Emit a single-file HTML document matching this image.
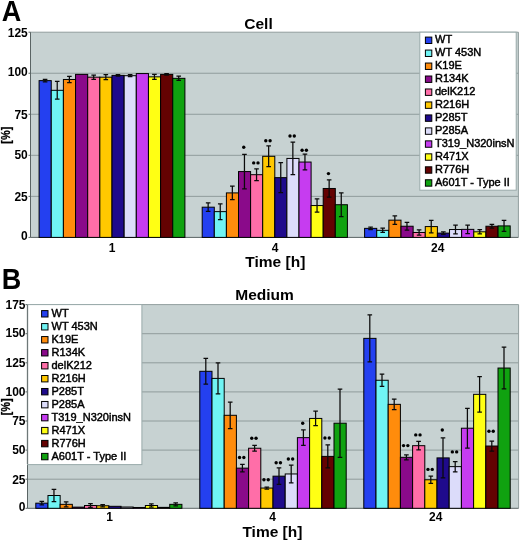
<!DOCTYPE html>
<html><head><meta charset="utf-8"><style>
html,body{margin:0;padding:0;background:#fff;width:520px;height:542px;overflow:hidden}
svg{display:block;filter:blur(0.35px)}
text{font-family:"Liberation Sans", sans-serif;fill:#000}
.ax{font-size:12px;font-weight:bold}
.st{font-size:11px;font-weight:bold}
.lg{font-size:11px;stroke:#000;stroke-width:0.45px}
.big{font-size:29.5px;font-weight:bold}
.ttl{font-size:15.5px;font-weight:bold}
.pc{font-size:12px;font-weight:bold;stroke:#000;stroke-width:0.25px}
</style></head><body>
<svg width="520" height="542" viewBox="0 0 520 542">
<rect x="30.5" y="32.2" width="487.9" height="205.2" fill="#C7D2D2"/>
<line x1="30.5" y1="196.36" x2="518.4" y2="196.36" stroke="#909C9C" stroke-width="1"/>
<line x1="30.5" y1="155.32" x2="518.4" y2="155.32" stroke="#909C9C" stroke-width="1"/>
<line x1="30.5" y1="114.28" x2="518.4" y2="114.28" stroke="#909C9C" stroke-width="1"/>
<line x1="30.5" y1="73.24" x2="518.4" y2="73.24" stroke="#909C9C" stroke-width="1"/>
<path d="M30.5 32.2H518.4V237.4" fill="none" stroke="#929E9E" stroke-width="1"/>
<path d="M30.5 32.2V237.4H518.4" fill="none" stroke="#5A6464" stroke-width="1"/>
<line x1="28.5" y1="237.4" x2="30.5" y2="237.4" stroke="#5A6464" stroke-width="1"/>
<text x="27.8" y="239.5" text-anchor="end" class="ax">0</text>
<line x1="28.5" y1="196.36" x2="30.5" y2="196.36" stroke="#5A6464" stroke-width="1"/>
<text x="27.8" y="201.3" text-anchor="end" class="ax">25</text>
<line x1="28.5" y1="155.32" x2="30.5" y2="155.32" stroke="#5A6464" stroke-width="1"/>
<text x="27.8" y="159.05" text-anchor="end" class="ax">50</text>
<line x1="28.5" y1="114.28" x2="30.5" y2="114.28" stroke="#5A6464" stroke-width="1"/>
<text x="27.8" y="118.95" text-anchor="end" class="ax">75</text>
<line x1="28.5" y1="73.24" x2="30.5" y2="73.24" stroke="#5A6464" stroke-width="1"/>
<text x="27.8" y="76.4" text-anchor="end" class="ax">100</text>
<line x1="28.5" y1="32.2" x2="30.5" y2="32.2" stroke="#5A6464" stroke-width="1"/>
<text x="27.8" y="36.55" text-anchor="end" class="ax">125</text>
<rect x="39.1" y="80.63" width="12.15" height="156.77" fill="#2440F0" stroke="#000" stroke-width="1"/>
<rect x="51.25" y="90.31" width="12.15" height="147.09" fill="#70F4F4" stroke="#000" stroke-width="1"/>
<rect x="63.4" y="79.48" width="12.15" height="157.92" fill="#FF8C0C" stroke="#000" stroke-width="1"/>
<rect x="75.55" y="74.39" width="12.15" height="163.01" fill="#8A0A8A" stroke="#000" stroke-width="1"/>
<rect x="87.7" y="77.18" width="12.15" height="160.22" fill="#FF6EA8" stroke="#000" stroke-width="1"/>
<rect x="99.85" y="77.18" width="12.15" height="160.22" fill="#FFC800" stroke="#000" stroke-width="1"/>
<rect x="112" y="75.37" width="12.15" height="162.03" fill="#1F0A8C" stroke="#000" stroke-width="1"/>
<rect x="124.15" y="75.7" width="12.15" height="161.7" fill="#DCDCFA" stroke="#000" stroke-width="1"/>
<rect x="136.3" y="73.57" width="12.15" height="163.83" fill="#C63CF0" stroke="#000" stroke-width="1"/>
<rect x="148.45" y="76.85" width="12.15" height="160.55" fill="#FFFF14" stroke="#000" stroke-width="1"/>
<rect x="160.6" y="74.39" width="12.15" height="163.01" fill="#640202" stroke="#000" stroke-width="1"/>
<rect x="172.75" y="78.33" width="12.15" height="159.07" fill="#10A210" stroke="#000" stroke-width="1"/>
<path d="M45.08 79.31V81.94M42.78 79.31H47.38M42.78 81.94H47.38" stroke="#0a0a0a" stroke-width="1.25" fill="none"/>
<path d="M57.23 81.45V99.18M54.93 81.45H59.52M54.93 99.18H59.52" stroke="#0a0a0a" stroke-width="1.25" fill="none"/>
<path d="M69.38 76.36V82.6M67.08 76.36H71.68M67.08 82.6H71.68" stroke="#0a0a0a" stroke-width="1.25" fill="none"/>
<path d="M93.68 75.05V79.31M91.38 75.05H95.98M91.38 79.31H95.98" stroke="#0a0a0a" stroke-width="1.25" fill="none"/>
<path d="M105.83 74.72V79.64M103.53 74.72H108.12M103.53 79.64H108.12" stroke="#0a0a0a" stroke-width="1.25" fill="none"/>
<path d="M117.98 74.72V76.03M115.68 74.72H120.28M115.68 76.03H120.28" stroke="#0a0a0a" stroke-width="1.25" fill="none"/>
<path d="M130.12 74.72V76.69M127.83 74.72H132.43M127.83 76.69H132.43" stroke="#0a0a0a" stroke-width="1.25" fill="none"/>
<path d="M154.43 74.39V79.31M152.12 74.39H156.73M152.12 79.31H156.73" stroke="#0a0a0a" stroke-width="1.25" fill="none"/>
<path d="M166.57 73.73V75.05M164.27 73.73H168.88M164.27 75.05H168.88" stroke="#0a0a0a" stroke-width="1.25" fill="none"/>
<path d="M178.72 76.19V80.46M176.42 76.19H181.03M176.42 80.46H181.03" stroke="#0a0a0a" stroke-width="1.25" fill="none"/>
<text x="112" y="251.5" text-anchor="middle" class="ax">1</text>
<rect x="202.2" y="207.19" width="12.1" height="30.21" fill="#2440F0" stroke="#000" stroke-width="1"/>
<rect x="214.3" y="211.63" width="12.1" height="25.77" fill="#70F4F4" stroke="#000" stroke-width="1"/>
<rect x="226.4" y="192.91" width="12.1" height="44.49" fill="#FF8C0C" stroke="#000" stroke-width="1"/>
<rect x="238.5" y="171.57" width="12.1" height="65.83" fill="#8A0A8A" stroke="#000" stroke-width="1"/>
<rect x="250.6" y="174.69" width="12.1" height="62.71" fill="#FF6EA8" stroke="#000" stroke-width="1"/>
<rect x="262.7" y="156.3" width="12.1" height="81.1" fill="#FFC800" stroke="#000" stroke-width="1"/>
<rect x="274.8" y="177.65" width="12.1" height="59.75" fill="#1F0A8C" stroke="#000" stroke-width="1"/>
<rect x="286.9" y="158.44" width="12.1" height="78.96" fill="#DCDCFA" stroke="#000" stroke-width="1"/>
<rect x="299" y="162.05" width="12.1" height="75.35" fill="#C63CF0" stroke="#000" stroke-width="1"/>
<rect x="311.1" y="205.55" width="12.1" height="31.85" fill="#FFFF14" stroke="#000" stroke-width="1"/>
<rect x="323.2" y="188.48" width="12.1" height="48.92" fill="#640202" stroke="#000" stroke-width="1"/>
<rect x="335.3" y="204.73" width="12.1" height="32.67" fill="#10A210" stroke="#000" stroke-width="1"/>
<path d="M208.15 202.93V211.46M205.85 202.93H210.45M205.85 211.46H210.45" stroke="#0a0a0a" stroke-width="1.25" fill="none"/>
<path d="M220.25 203.75V219.51M217.95 203.75H222.55M217.95 219.51H222.55" stroke="#0a0a0a" stroke-width="1.25" fill="none"/>
<path d="M232.35 186.18V199.64M230.05 186.18H234.65M230.05 199.64H234.65" stroke="#0a0a0a" stroke-width="1.25" fill="none"/>
<path d="M244.45 154.34V188.81M242.15 154.34H246.75M242.15 188.81H246.75" stroke="#0a0a0a" stroke-width="1.25" fill="none"/>
<circle cx="243.75" cy="147.3" r="1.7" fill="#000"/>
<path d="M256.55 168.78V180.6M254.25 168.78H258.85M254.25 180.6H258.85" stroke="#0a0a0a" stroke-width="1.25" fill="none"/>
<circle cx="253.7" cy="162.9" r="1.7" fill="#000"/>
<circle cx="258" cy="162.9" r="1.7" fill="#000"/>
<path d="M268.65 145.96V166.65M266.35 145.96H270.95M266.35 166.65H270.95" stroke="#0a0a0a" stroke-width="1.25" fill="none"/>
<circle cx="265.8" cy="140.7" r="1.7" fill="#000"/>
<circle cx="270.1" cy="140.7" r="1.7" fill="#000"/>
<path d="M280.75 162.71V192.58M278.45 162.71H283.05M278.45 192.58H283.05" stroke="#0a0a0a" stroke-width="1.25" fill="none"/>
<path d="M292.85 142.19V174.69M290.55 142.19H295.15M290.55 174.69H295.15" stroke="#0a0a0a" stroke-width="1.25" fill="none"/>
<circle cx="290" cy="136" r="1.7" fill="#000"/>
<circle cx="294.3" cy="136" r="1.7" fill="#000"/>
<path d="M304.95 154.17V169.93M302.65 154.17H307.25M302.65 169.93H307.25" stroke="#0a0a0a" stroke-width="1.25" fill="none"/>
<circle cx="302.1" cy="150.3" r="1.7" fill="#000"/>
<circle cx="306.4" cy="150.3" r="1.7" fill="#000"/>
<path d="M317.05 198.99V212.12M314.75 198.99H319.35M314.75 212.12H319.35" stroke="#0a0a0a" stroke-width="1.25" fill="none"/>
<path d="M329.15 179.78V197.18M326.85 179.78H331.45M326.85 197.18H331.45" stroke="#0a0a0a" stroke-width="1.25" fill="none"/>
<circle cx="328.45" cy="173.6" r="1.7" fill="#000"/>
<path d="M341.25 192.75V216.72M338.95 192.75H343.55M338.95 216.72H343.55" stroke="#0a0a0a" stroke-width="1.25" fill="none"/>
<text x="275" y="251.5" text-anchor="middle" class="ax">4</text>
<rect x="364.6" y="228.37" width="12.13" height="9.03" fill="#2440F0" stroke="#000" stroke-width="1"/>
<rect x="376.73" y="230.34" width="12.13" height="7.06" fill="#70F4F4" stroke="#000" stroke-width="1"/>
<rect x="388.87" y="220.16" width="12.13" height="17.24" fill="#FF8C0C" stroke="#000" stroke-width="1"/>
<rect x="401" y="226.24" width="12.13" height="11.16" fill="#8A0A8A" stroke="#000" stroke-width="1"/>
<rect x="413.13" y="232.48" width="12.13" height="4.92" fill="#FF6EA8" stroke="#000" stroke-width="1"/>
<rect x="425.27" y="226.57" width="12.13" height="10.83" fill="#FFC800" stroke="#000" stroke-width="1"/>
<rect x="437.4" y="233.13" width="12.13" height="4.27" fill="#1F0A8C" stroke="#000" stroke-width="1"/>
<rect x="449.53" y="229.52" width="12.13" height="7.88" fill="#DCDCFA" stroke="#000" stroke-width="1"/>
<rect x="461.67" y="229.36" width="12.13" height="8.04" fill="#C63CF0" stroke="#000" stroke-width="1"/>
<rect x="473.8" y="231.82" width="12.13" height="5.58" fill="#FFFF14" stroke="#000" stroke-width="1"/>
<rect x="485.93" y="226.24" width="12.13" height="11.16" fill="#640202" stroke="#000" stroke-width="1"/>
<rect x="498.07" y="225.91" width="12.13" height="11.49" fill="#10A210" stroke="#000" stroke-width="1"/>
<path d="M370.57 227.06V229.68M368.27 227.06H372.87M368.27 229.68H372.87" stroke="#0a0a0a" stroke-width="1.25" fill="none"/>
<path d="M382.7 228.21V232.48M380.4 228.21H385M380.4 232.48H385" stroke="#0a0a0a" stroke-width="1.25" fill="none"/>
<path d="M394.83 215.9V224.43M392.53 215.9H397.13M392.53 224.43H397.13" stroke="#0a0a0a" stroke-width="1.25" fill="none"/>
<path d="M406.97 222.46V230.01M404.67 222.46H409.27M404.67 230.01H409.27" stroke="#0a0a0a" stroke-width="1.25" fill="none"/>
<path d="M419.1 229.85V235.1M416.8 229.85H421.4M416.8 235.1H421.4" stroke="#0a0a0a" stroke-width="1.25" fill="none"/>
<path d="M431.23 220.33V232.8M428.93 220.33H433.53M428.93 232.8H433.53" stroke="#0a0a0a" stroke-width="1.25" fill="none"/>
<path d="M443.37 231.82V234.45M441.07 231.82H445.67M441.07 234.45H445.67" stroke="#0a0a0a" stroke-width="1.25" fill="none"/>
<path d="M455.5 225.09V233.95M453.2 225.09H457.8M453.2 233.95H457.8" stroke="#0a0a0a" stroke-width="1.25" fill="none"/>
<path d="M467.63 225.09V233.62M465.33 225.09H469.93M465.33 233.62H469.93" stroke="#0a0a0a" stroke-width="1.25" fill="none"/>
<path d="M479.77 229.68V233.95M477.47 229.68H482.07M477.47 233.95H482.07" stroke="#0a0a0a" stroke-width="1.25" fill="none"/>
<path d="M491.9 224.27V228.21M489.6 224.27H494.2M489.6 228.21H494.2" stroke="#0a0a0a" stroke-width="1.25" fill="none"/>
<path d="M504.03 220.33V231.49M501.73 220.33H506.33M501.73 231.49H506.33" stroke="#0a0a0a" stroke-width="1.25" fill="none"/>
<text x="437.8" y="251.5" text-anchor="middle" class="ax">24</text>
<rect x="419.8" y="32.2" width="96.4" height="158" fill="#fff" stroke="#9aa" stroke-width="1"/>
<rect x="425.4" y="37.1" width="6.4" height="6.4" fill="#2440F0" stroke="#000" stroke-width="1"/>
<text x="435" y="43.4" class="lg">WT</text>
<rect x="425.4" y="50.07" width="6.4" height="6.4" fill="#70F4F4" stroke="#000" stroke-width="1"/>
<text x="435" y="56.37" class="lg">WT 453N</text>
<rect x="425.4" y="63.04" width="6.4" height="6.4" fill="#FF8C0C" stroke="#000" stroke-width="1"/>
<text x="435" y="69.34" class="lg">K19E</text>
<rect x="425.4" y="76.01" width="6.4" height="6.4" fill="#8A0A8A" stroke="#000" stroke-width="1"/>
<text x="435" y="82.31" class="lg">R134K</text>
<rect x="425.4" y="88.98" width="6.4" height="6.4" fill="#FF6EA8" stroke="#000" stroke-width="1"/>
<text x="435" y="95.28" class="lg">delK212</text>
<rect x="425.4" y="101.95" width="6.4" height="6.4" fill="#FFC800" stroke="#000" stroke-width="1"/>
<text x="435" y="108.25" class="lg">R216H</text>
<rect x="425.4" y="114.92" width="6.4" height="6.4" fill="#1F0A8C" stroke="#000" stroke-width="1"/>
<text x="435" y="121.22" class="lg">P285T</text>
<rect x="425.4" y="127.89" width="6.4" height="6.4" fill="#DCDCFA" stroke="#000" stroke-width="1"/>
<text x="435" y="134.19" class="lg">P285A</text>
<rect x="425.4" y="140.86" width="6.4" height="6.4" fill="#C63CF0" stroke="#000" stroke-width="1"/>
<text x="435" y="147.16" class="lg">T319_N320insN</text>
<rect x="425.4" y="153.83" width="6.4" height="6.4" fill="#FFFF14" stroke="#000" stroke-width="1"/>
<text x="435" y="160.13" class="lg">R471X</text>
<rect x="425.4" y="166.8" width="6.4" height="6.4" fill="#640202" stroke="#000" stroke-width="1"/>
<text x="435" y="173.1" class="lg">R776H</text>
<rect x="425.4" y="179.77" width="6.4" height="6.4" fill="#10A210" stroke="#000" stroke-width="1"/>
<text x="435" y="186.07" class="lg">A601T - Type II</text>
<rect x="27.5" y="304.6" width="491.1" height="203.7" fill="#C7D2D2"/>
<line x1="27.5" y1="479.2" x2="518.6" y2="479.2" stroke="#909C9C" stroke-width="1"/>
<line x1="27.5" y1="450.1" x2="518.6" y2="450.1" stroke="#909C9C" stroke-width="1"/>
<line x1="27.5" y1="421" x2="518.6" y2="421" stroke="#909C9C" stroke-width="1"/>
<line x1="27.5" y1="391.9" x2="518.6" y2="391.9" stroke="#909C9C" stroke-width="1"/>
<line x1="27.5" y1="362.8" x2="518.6" y2="362.8" stroke="#909C9C" stroke-width="1"/>
<line x1="27.5" y1="333.7" x2="518.6" y2="333.7" stroke="#909C9C" stroke-width="1"/>
<path d="M27.5 304.6H518.6V508.3" fill="none" stroke="#929E9E" stroke-width="1"/>
<path d="M27.5 304.6V508.3H518.6" fill="none" stroke="#5A6464" stroke-width="1"/>
<line x1="25.5" y1="508.3" x2="27.5" y2="508.3" stroke="#5A6464" stroke-width="1"/>
<text x="25.5" y="510.85" text-anchor="end" class="ax">0</text>
<line x1="25.5" y1="479.2" x2="27.5" y2="479.2" stroke="#5A6464" stroke-width="1"/>
<text x="25.5" y="483.55" text-anchor="end" class="ax">25</text>
<line x1="25.5" y1="450.1" x2="27.5" y2="450.1" stroke="#5A6464" stroke-width="1"/>
<text x="25.5" y="454.05" text-anchor="end" class="ax">50</text>
<line x1="25.5" y1="421" x2="27.5" y2="421" stroke="#5A6464" stroke-width="1"/>
<text x="25.5" y="425.2" text-anchor="end" class="ax">75</text>
<line x1="25.5" y1="391.9" x2="27.5" y2="391.9" stroke="#5A6464" stroke-width="1"/>
<text x="25.5" y="396.15" text-anchor="end" class="ax">100</text>
<line x1="25.5" y1="362.8" x2="27.5" y2="362.8" stroke="#5A6464" stroke-width="1"/>
<text x="25.5" y="367" text-anchor="end" class="ax">125</text>
<line x1="25.5" y1="333.7" x2="27.5" y2="333.7" stroke="#5A6464" stroke-width="1"/>
<text x="25.5" y="337.35" text-anchor="end" class="ax">150</text>
<line x1="25.5" y1="304.6" x2="27.5" y2="304.6" stroke="#5A6464" stroke-width="1"/>
<text x="25.5" y="309.15" text-anchor="end" class="ax">175</text>
<rect x="35.8" y="503.18" width="12.18" height="5.12" fill="#2440F0" stroke="#000" stroke-width="1"/>
<rect x="47.98" y="495.5" width="12.18" height="12.8" fill="#70F4F4" stroke="#000" stroke-width="1"/>
<rect x="60.15" y="504.34" width="12.18" height="3.96" fill="#FF8C0C" stroke="#000" stroke-width="1"/>
<rect x="72.33" y="507.14" width="12.18" height="1.16" fill="#8A0A8A" stroke="#000" stroke-width="1"/>
<rect x="84.5" y="505.51" width="12.18" height="2.79" fill="#FF6EA8" stroke="#000" stroke-width="1"/>
<rect x="96.68" y="505.74" width="12.18" height="2.56" fill="#FFC800" stroke="#000" stroke-width="1"/>
<rect x="108.85" y="506.32" width="12.18" height="1.98" fill="#1F0A8C" stroke="#000" stroke-width="1"/>
<rect x="121.03" y="507.02" width="12.18" height="1.28" fill="#DCDCFA" stroke="#000" stroke-width="1"/>
<rect x="133.2" y="507.49" width="12.18" height="0.81" fill="#C63CF0" stroke="#000" stroke-width="1"/>
<rect x="145.38" y="505.51" width="12.18" height="2.79" fill="#FFFF14" stroke="#000" stroke-width="1"/>
<rect x="157.55" y="507.37" width="12.18" height="0.93" fill="#640202" stroke="#000" stroke-width="1"/>
<rect x="169.73" y="504.34" width="12.18" height="3.96" fill="#10A210" stroke="#000" stroke-width="1"/>
<path d="M41.79 501.43V504.92M39.49 501.43H44.09M39.49 504.92H44.09" stroke="#0a0a0a" stroke-width="1.25" fill="none"/>
<path d="M53.96 489.44V501.55M51.66 489.44H56.26M51.66 501.55H56.26" stroke="#0a0a0a" stroke-width="1.25" fill="none"/>
<path d="M66.14 501.78V506.9M63.84 501.78H68.44M63.84 506.9H68.44" stroke="#0a0a0a" stroke-width="1.25" fill="none"/>
<path d="M90.49 503.53V507.49M88.19 503.53H92.79M88.19 507.49H92.79" stroke="#0a0a0a" stroke-width="1.25" fill="none"/>
<path d="M102.66 504.69V506.79M100.36 504.69H104.96M100.36 506.79H104.96" stroke="#0a0a0a" stroke-width="1.25" fill="none"/>
<path d="M151.36 503.99V507.02M149.06 503.99H153.66M149.06 507.02H153.66" stroke="#0a0a0a" stroke-width="1.25" fill="none"/>
<path d="M175.71 502.83V505.86M173.41 502.83H178.01M173.41 505.86H178.01" stroke="#0a0a0a" stroke-width="1.25" fill="none"/>
<text x="109.5" y="521.3" text-anchor="middle" class="ax">1</text>
<rect x="199.8" y="371.3" width="12.2" height="137" fill="#2440F0" stroke="#000" stroke-width="1"/>
<rect x="212" y="378.4" width="12.2" height="129.9" fill="#70F4F4" stroke="#000" stroke-width="1"/>
<rect x="224.2" y="415.3" width="12.2" height="93" fill="#FF8C0C" stroke="#000" stroke-width="1"/>
<rect x="236.4" y="468.14" width="12.2" height="40.16" fill="#8A0A8A" stroke="#000" stroke-width="1"/>
<rect x="248.6" y="448.24" width="12.2" height="60.06" fill="#FF6EA8" stroke="#000" stroke-width="1"/>
<rect x="260.8" y="488.05" width="12.2" height="20.25" fill="#FFC800" stroke="#000" stroke-width="1"/>
<rect x="273" y="476.17" width="12.2" height="32.13" fill="#1F0A8C" stroke="#000" stroke-width="1"/>
<rect x="285.2" y="473.96" width="12.2" height="34.34" fill="#DCDCFA" stroke="#000" stroke-width="1"/>
<rect x="297.4" y="437.65" width="12.2" height="70.65" fill="#C63CF0" stroke="#000" stroke-width="1"/>
<rect x="309.6" y="418.44" width="12.2" height="89.86" fill="#FFFF14" stroke="#000" stroke-width="1"/>
<rect x="321.8" y="456.39" width="12.2" height="51.91" fill="#640202" stroke="#000" stroke-width="1"/>
<rect x="334" y="423.21" width="12.2" height="85.09" fill="#10A210" stroke="#000" stroke-width="1"/>
<path d="M205.8 358.38V384.22M203.5 358.38H208.1M203.5 384.22H208.1" stroke="#0a0a0a" stroke-width="1.25" fill="none"/>
<path d="M218 362.92V393.88M215.7 362.92H220.3M215.7 393.88H220.3" stroke="#0a0a0a" stroke-width="1.25" fill="none"/>
<path d="M230.2 402.03V428.57M227.9 402.03H232.5M227.9 428.57H232.5" stroke="#0a0a0a" stroke-width="1.25" fill="none"/>
<path d="M242.4 464.42V471.87M240.1 464.42H244.7M240.1 471.87H244.7" stroke="#0a0a0a" stroke-width="1.25" fill="none"/>
<circle cx="239.55" cy="457.5" r="1.7" fill="#000"/>
<circle cx="243.85" cy="457.5" r="1.7" fill="#000"/>
<path d="M254.6 445.33V451.15M252.3 445.33H256.9M252.3 451.15H256.9" stroke="#0a0a0a" stroke-width="1.25" fill="none"/>
<circle cx="251.75" cy="438.2" r="1.7" fill="#000"/>
<circle cx="256.05" cy="438.2" r="1.7" fill="#000"/>
<path d="M266.8 487V489.09M264.5 487H269.1M264.5 489.09H269.1" stroke="#0a0a0a" stroke-width="1.25" fill="none"/>
<circle cx="263.95" cy="479.7" r="1.7" fill="#000"/>
<circle cx="268.25" cy="479.7" r="1.7" fill="#000"/>
<path d="M279 467.91V484.44M276.7 467.91H281.3M276.7 484.44H281.3" stroke="#0a0a0a" stroke-width="1.25" fill="none"/>
<circle cx="276.15" cy="462.8" r="1.7" fill="#000"/>
<circle cx="280.45" cy="462.8" r="1.7" fill="#000"/>
<path d="M291.2 465.12V482.81M288.9 465.12H293.5M288.9 482.81H293.5" stroke="#0a0a0a" stroke-width="1.25" fill="none"/>
<circle cx="288.35" cy="459" r="1.7" fill="#000"/>
<circle cx="292.65" cy="459" r="1.7" fill="#000"/>
<path d="M303.4 429.85V445.44M301.1 429.85H305.7M301.1 445.44H305.7" stroke="#0a0a0a" stroke-width="1.25" fill="none"/>
<circle cx="302.7" cy="423.2" r="1.7" fill="#000"/>
<path d="M315.6 411.22V425.66M313.3 411.22H317.9M313.3 425.66H317.9" stroke="#0a0a0a" stroke-width="1.25" fill="none"/>
<path d="M327.8 444.98V467.79M325.5 444.98H330.1M325.5 467.79H330.1" stroke="#0a0a0a" stroke-width="1.25" fill="none"/>
<circle cx="324.95" cy="438" r="1.7" fill="#000"/>
<circle cx="329.25" cy="438" r="1.7" fill="#000"/>
<path d="M340 389.11V457.32M337.7 389.11H342.3M337.7 457.32H342.3" stroke="#0a0a0a" stroke-width="1.25" fill="none"/>
<text x="272.7" y="521.3" text-anchor="middle" class="ax">4</text>
<rect x="363.8" y="338.36" width="12.2" height="169.94" fill="#2440F0" stroke="#000" stroke-width="1"/>
<rect x="376" y="380.26" width="12.2" height="128.04" fill="#70F4F4" stroke="#000" stroke-width="1"/>
<rect x="388.2" y="404.35" width="12.2" height="103.95" fill="#FF8C0C" stroke="#000" stroke-width="1"/>
<rect x="400.4" y="457.32" width="12.2" height="50.98" fill="#8A0A8A" stroke="#000" stroke-width="1"/>
<rect x="412.6" y="445.68" width="12.2" height="62.62" fill="#FF6EA8" stroke="#000" stroke-width="1"/>
<rect x="424.8" y="479.78" width="12.2" height="28.52" fill="#FFC800" stroke="#000" stroke-width="1"/>
<rect x="437" y="457.9" width="12.2" height="50.4" fill="#1F0A8C" stroke="#000" stroke-width="1"/>
<rect x="449.2" y="466.63" width="12.2" height="41.67" fill="#DCDCFA" stroke="#000" stroke-width="1"/>
<rect x="461.4" y="428.22" width="12.2" height="80.08" fill="#C63CF0" stroke="#000" stroke-width="1"/>
<rect x="473.6" y="394.34" width="12.2" height="113.96" fill="#FFFF14" stroke="#000" stroke-width="1"/>
<rect x="485.8" y="446.03" width="12.2" height="62.27" fill="#640202" stroke="#000" stroke-width="1"/>
<rect x="498" y="368.04" width="12.2" height="140.26" fill="#10A210" stroke="#000" stroke-width="1"/>
<path d="M369.8 314.84V361.87M367.5 314.84H372.1M367.5 361.87H372.1" stroke="#0a0a0a" stroke-width="1.25" fill="none"/>
<path d="M382 374.09V386.43M379.7 374.09H384.3M379.7 386.43H384.3" stroke="#0a0a0a" stroke-width="1.25" fill="none"/>
<path d="M394.2 399V409.71M391.9 399H396.5M391.9 409.71H396.5" stroke="#0a0a0a" stroke-width="1.25" fill="none"/>
<path d="M406.4 454.87V459.76M404.1 454.87H408.7M404.1 459.76H408.7" stroke="#0a0a0a" stroke-width="1.25" fill="none"/>
<circle cx="403.55" cy="445.6" r="1.7" fill="#000"/>
<circle cx="407.85" cy="445.6" r="1.7" fill="#000"/>
<path d="M418.6 441.37V449.98M416.3 441.37H420.9M416.3 449.98H420.9" stroke="#0a0a0a" stroke-width="1.25" fill="none"/>
<circle cx="415.75" cy="434.9" r="1.7" fill="#000"/>
<circle cx="420.05" cy="434.9" r="1.7" fill="#000"/>
<path d="M430.8 476.17V483.39M428.5 476.17H433.1M428.5 483.39H433.1" stroke="#0a0a0a" stroke-width="1.25" fill="none"/>
<circle cx="427.95" cy="469.4" r="1.7" fill="#000"/>
<circle cx="432.25" cy="469.4" r="1.7" fill="#000"/>
<path d="M443 437.88V477.92M440.7 437.88H445.3M440.7 477.92H445.3" stroke="#0a0a0a" stroke-width="1.25" fill="none"/>
<circle cx="442.3" cy="430" r="1.7" fill="#000"/>
<path d="M455.2 461.51V471.75M452.9 461.51H457.5M452.9 471.75H457.5" stroke="#0a0a0a" stroke-width="1.25" fill="none"/>
<circle cx="452.35" cy="451.9" r="1.7" fill="#000"/>
<circle cx="456.65" cy="451.9" r="1.7" fill="#000"/>
<path d="M467.4 408.31V448.12M465.1 408.31H469.7M465.1 448.12H469.7" stroke="#0a0a0a" stroke-width="1.25" fill="none"/>
<path d="M479.6 376.65V412.04M477.3 376.65H481.9M477.3 412.04H481.9" stroke="#0a0a0a" stroke-width="1.25" fill="none"/>
<path d="M491.8 441.02V451.03M489.5 441.02H494.1M489.5 451.03H494.1" stroke="#0a0a0a" stroke-width="1.25" fill="none"/>
<circle cx="488.95" cy="431.2" r="1.7" fill="#000"/>
<circle cx="493.25" cy="431.2" r="1.7" fill="#000"/>
<path d="M504 347.2V388.87M501.7 347.2H506.3M501.7 388.87H506.3" stroke="#0a0a0a" stroke-width="1.25" fill="none"/>
<text x="435.8" y="521.3" text-anchor="middle" class="ax">24</text>
<rect x="27.5" y="304.6" width="114.4" height="160" fill="#fff" stroke="#9aa" stroke-width="1"/>
<rect x="41.6" y="310.6" width="6.4" height="6.4" fill="#2440F0" stroke="#000" stroke-width="1"/>
<text x="51.5" y="316.9" class="lg">WT</text>
<rect x="41.6" y="323.58" width="6.4" height="6.4" fill="#70F4F4" stroke="#000" stroke-width="1"/>
<text x="51.5" y="329.88" class="lg">WT 453N</text>
<rect x="41.6" y="336.56" width="6.4" height="6.4" fill="#FF8C0C" stroke="#000" stroke-width="1"/>
<text x="51.5" y="342.86" class="lg">K19E</text>
<rect x="41.6" y="349.54" width="6.4" height="6.4" fill="#8A0A8A" stroke="#000" stroke-width="1"/>
<text x="51.5" y="355.84" class="lg">R134K</text>
<rect x="41.6" y="362.52" width="6.4" height="6.4" fill="#FF6EA8" stroke="#000" stroke-width="1"/>
<text x="51.5" y="368.82" class="lg">delK212</text>
<rect x="41.6" y="375.5" width="6.4" height="6.4" fill="#FFC800" stroke="#000" stroke-width="1"/>
<text x="51.5" y="381.8" class="lg">R216H</text>
<rect x="41.6" y="388.48" width="6.4" height="6.4" fill="#1F0A8C" stroke="#000" stroke-width="1"/>
<text x="51.5" y="394.78" class="lg">P285T</text>
<rect x="41.6" y="401.46" width="6.4" height="6.4" fill="#DCDCFA" stroke="#000" stroke-width="1"/>
<text x="51.5" y="407.76" class="lg">P285A</text>
<rect x="41.6" y="414.44" width="6.4" height="6.4" fill="#C63CF0" stroke="#000" stroke-width="1"/>
<text x="51.5" y="420.74" class="lg">T319_N320insN</text>
<rect x="41.6" y="427.42" width="6.4" height="6.4" fill="#FFFF14" stroke="#000" stroke-width="1"/>
<text x="51.5" y="433.72" class="lg">R471X</text>
<rect x="41.6" y="440.4" width="6.4" height="6.4" fill="#640202" stroke="#000" stroke-width="1"/>
<text x="51.5" y="446.7" class="lg">R776H</text>
<rect x="41.6" y="453.38" width="6.4" height="6.4" fill="#10A210" stroke="#000" stroke-width="1"/>
<text x="51.5" y="459.68" class="lg">A601T - Type II</text>
<line x1="27.5" y1="304.6" x2="27.5" y2="464" stroke="#6E7878" stroke-width="1.3"/>
<text transform="translate(1.8 20.8) scale(0.915 1)" class="big">A</text>
<text transform="translate(1.8 288.7) scale(0.915 1)" class="big">B</text>
<text x="258.5" y="29" text-anchor="middle" class="ttl">Cell</text>
<text x="264.5" y="300.3" text-anchor="middle" class="ttl">Medium</text>
<text x="275.3" y="267.1" text-anchor="middle" class="ttl">Time [h]</text>
<text x="272.4" y="536.6" text-anchor="middle" class="ttl">Time [h]</text>
<text transform="translate(10.3 135.2) rotate(-90) scale(0.91 1)" text-anchor="middle" class="pc">[%]</text>
<text transform="translate(9.9 406.8) rotate(-90) scale(0.91 1)" text-anchor="middle" class="pc">[%]</text>
</svg>
</body></html>
